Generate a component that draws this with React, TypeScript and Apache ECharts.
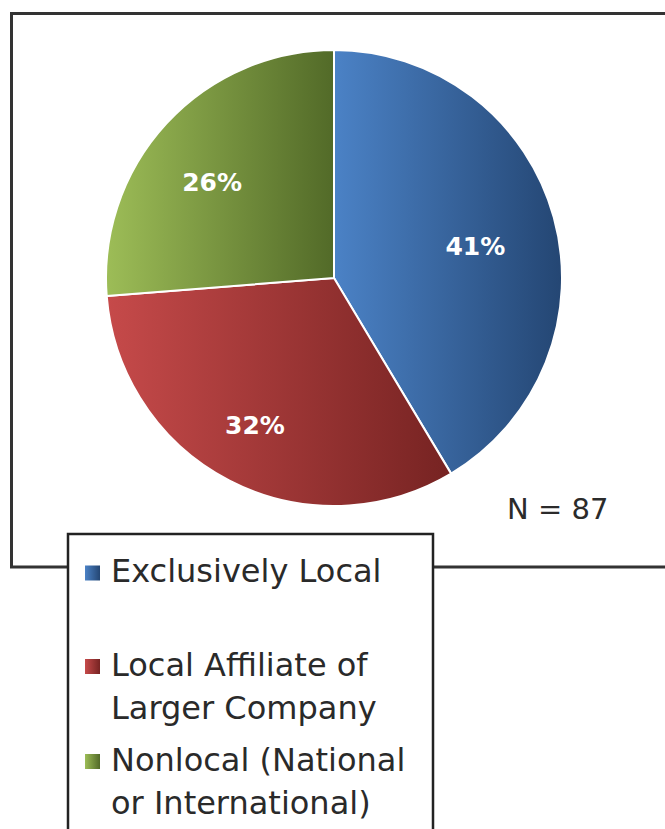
import React, { useEffect, useRef } from "react";
import * as echarts from "echarts";

// ---- Data ----
const categories = [
  "Exclusively Local",
  "Local Affiliate of Larger Company",
  "Nonlocal (National or International)",
];
const legendLines = [
  ["Exclusively Local"],
  ["Local Affiliate of", "Larger Company"],
  ["Nonlocal (National", "or International)"],
];
const shares = [41, 32, 26];
const sampleSize = 87;

// ---- Styles ----
const lightColors = ["#4b82c6", "#c64a4a", "#9dbd57"];
const darkColors = ["#244673", "#762322", "#526a28"];

const grad = (i: number) => ({
  type: "linear",
  x: 0,
  y: 0,
  x2: 1,
  y2: 0,
  colorStops: [
    { offset: 0, color: lightColors[i] },
    { offset: 1, color: darkColors[i] },
  ],
});

const FONT = "'DejaVu Sans', 'Noto Sans', sans-serif";

export default function App() {
  const ref = useRef<HTMLDivElement>(null);

  useEffect(() => {
    if (!ref.current) return;
    const chart = echarts.init(ref.current, null, { renderer: "svg" });

    const pieData = categories.map((name, i) => ({
      name,
      value: shares[i],
      itemStyle: { color: grad(i) },
    }));

    const legendY = [573, 666.5, 761.5];
    const lineH = 43;
    const legendGraphics: any[] = [];
    legendLines.forEach((lines, i) => {
      legendGraphics.push({
        type: "rect",
        z: 20,
        shape: { x: 85, y: legendY[i] - 7.5, width: 15, height: 15 },
        style: { fill: grad(i) },
      });
      lines.forEach((t, j) => {
        legendGraphics.push({
          type: "text",
          z: 20,
          x: 111,
          y: legendY[i] - 2 + j * lineH,
          style: {
            text: t,
            fill: "#2a2a2a",
            font: `32px ${FONT}`,
            verticalAlign: "middle",
            align: "left",
          },
        });
      });
    });

    chart.setOption({
      animation: false,
      backgroundColor: "#ffffff",
      graphic: [
        {
          type: "rect",
          z: 1,
          shape: { x: 11.5, y: 13.5, width: 720, height: 553.5 },
          style: { fill: "none", stroke: "#333333", lineWidth: 3 },
        },
        {
          type: "rect",
          z: 10,
          shape: { x: 68, y: 534, width: 365, height: 330 },
          style: { fill: "#ffffff", stroke: "#222222", lineWidth: 2.5 },
        },
        {
          type: "text",
          z: 10,
          x: 507,
          y: 509,
          style: {
            text: `N = ${sampleSize}`,
            fill: "#2b2b2b",
            font: `29px ${FONT}`,
            verticalAlign: "middle",
            align: "left",
          },
        },
        ...legendGraphics,
      ],
      series: [
        {
          type: "pie",
          center: [334, 278],
          radius: 228,
          startAngle: 90,
          clockwise: true,
          silent: true,
          data: pieData,
          label: { show: false },
          labelLine: { show: false },
          itemStyle: { borderColor: "#ffffff", borderWidth: 2 },
          emphasis: { disabled: true },
        },
        {
          type: "pie",
          center: [334, 278],
          radius: [76, 228],
          startAngle: 90,
          clockwise: true,
          silent: true,
          z: 3,
          data: categories.map((name, i) => ({ name, value: shares[i] })),
          itemStyle: { color: "rgba(0,0,0,0)", borderWidth: 0 },
          labelLine: { show: false },
          label: {
            show: true,
            position: "inside",
            offset: [-8, 10],
            formatter: (p: any) => `${p.value}%`,
            color: "#ffffff",
            fontFamily: FONT,
            fontWeight: "bold",
            fontSize: 25,
          },
          emphasis: { disabled: true },
        },
      ],
    });

    return () => chart.dispose();
  }, []);

  return (
    <div
      ref={ref}
      style={{
        position: "fixed",
        left: 0,
        top: 0,
        width: 665,
        height: 829,
        background: "#ffffff",
      }}
    />
  );
}
